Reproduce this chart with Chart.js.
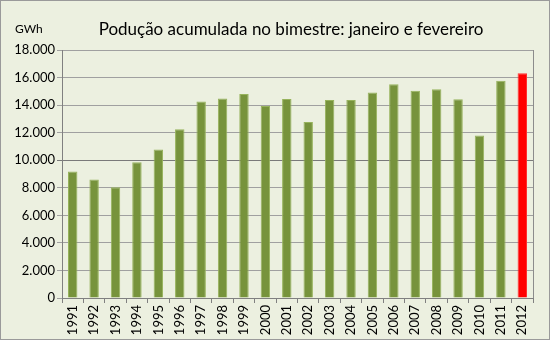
<!DOCTYPE html>
<html>
<head>
	<title>Podução acumulada no bimestre</title>
	<script src="https://cdn.jsdelivr.net/npm/chart.js"></script>
	<style>
		body { margin: 0; padding: 0; background: #ECF0E0; }
		canvas { display: block; }
	</style>
</head>
<body>
	<canvas id="chart" width="550" height="340"></canvas>
	<script>
		// dados (GWh)
		var anos = ['1991','1992','1993','1994','1995','1996','1997','1998','1999','2000','2001',
			'2002','2003','2004','2005','2006','2007','2008','2009','2010','2011','2012'];
		var producao = [9180, 8600, 8040, 9850, 10780, 12250, 14270, 14480, 14800, 13940, 14450,
			12780, 14380, 14380, 14920, 15520, 15040, 15150, 14420, 11800, 15760, 16310];
		var yTicks = [0, 2000, 4000, 6000, 8000, 10000, 12000, 14000, 16000, 18000];
		var titulo = 'Podução acumulada no bimestre: janeiro e fevereiro';
		var unidade = 'GWh';

		var fonte = 'Lato';

		// moldura, borda do gráfico, título e rótulo da unidade
		var moldura = {
			id: 'moldura',
			beforeDraw: function(chart) {
				var c = chart.ctx;
				c.save();
				c.fillStyle = '#ECF0E0';
				c.fillRect(0, 0, chart.width, chart.height);
				c.restore();
			},
			afterDraw: function(chart) {
				var c = chart.ctx, a = chart.chartArea;
				c.save();
				c.strokeStyle = '#8c8c8c';
				c.lineWidth = 1;
				c.beginPath();
				c.moveTo(Math.round(a.right) + 0.5, a.top);
				c.lineTo(Math.round(a.right) + 0.5, a.bottom);
				c.stroke();
				c.strokeStyle = '#9a9a9a';
				c.strokeRect(0.5, 0.5, chart.width - 1, chart.height - 1);
				c.fillStyle = '#000';
				c.textBaseline = 'alphabetic';
				c.font = '12px ' + fonte;
				c.textAlign = 'left';
				c.fillText(unidade, 15, 33);
				c.font = '17px ' + fonte;
				c.textAlign = 'center';
				c.fillText(titulo, 291, 35);
				c.restore();
			}
		};

		var ctx = document.getElementById('chart').getContext('2d');
		var chart = new Chart(ctx, {
			type: 'bar',
			data: {
				labels: anos,
				datasets: [{
					data: producao,
					backgroundColor: function(c) { return c.dataIndex === anos.length - 1 ? '#FF0000' : '#77933C'; },
					borderColor: function(c) { return c.dataIndex === anos.length - 1 ? '#FF3030' : '#97B35C'; },
					borderWidth: 1,
					barPercentage: 0.44,
					categoryPercentage: 1
				}]
			},
			options: {
				responsive: false,
				animation: false,
				layout: { padding: { left: 0, right: 17, top: 50, bottom: 0 } },
				plugins: {
					legend: { display: false },
					tooltip: { enabled: false },
					title: { display: false }
				},
				scales: {
					x: {
						offset: true,
						grid: { offset: true, drawOnChartArea: false, drawTicks: true, tickLength: 5, color: '#808080' },
						border: { color: '#808080' },
						ticks: { color: '#000', font: { family: fonte, size: 13 }, minRotation: 90, maxRotation: 90, autoSkip: false, padding: 2 },
						afterFit: function(s) { s.height = 42; }
					},
					y: {
						min: 0,
						max: 18000,
						afterBuildTicks: function(s) { s.ticks = yTicks.map(function(v) { return { value: v }; }); },
						grid: {
							color: function(c) { return c.tick && c.tick.value === 10000 ? '#7a7a7a' : '#a0a0a0'; },
							tickLength: 5
						},
						border: { color: '#808080' },
						ticks: {
							color: '#000',
							font: { family: fonte, size: 13 },
							padding: 2,
							callback: function(v) { return v.toLocaleString('de-DE'); }
						},
						afterFit: function(s) { s.width = 62; }
					}
				}
			},
			plugins: [moldura]
		});
	</script>
</body>
</html>
